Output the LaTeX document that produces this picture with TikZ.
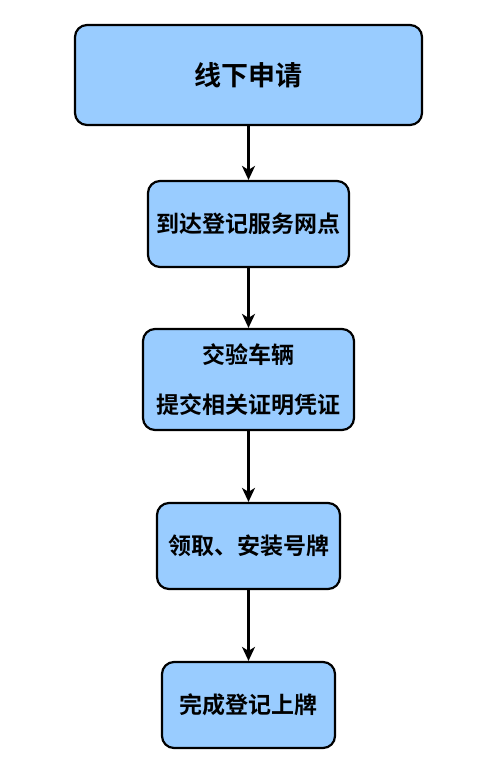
\documentclass[tikz,border=0pt]{standalone}
\usepackage{fontspec}
\setmainfont{Noto Sans CJK SC Bold}
\usetikzlibrary{
  arrows.meta,
  positioning
}
\definecolor{boxblue}{HTML}{99CCFF}
\tikzset{
  stepbox/.style = {rectangle, rounded corners=12pt, draw=black, line width=2.2pt,
    fill=boxblue, align=center, inner sep=0pt, font=\fontsize{23}{27}\selectfont},
  flow/.style = {-{Stealth[length=14pt,width=13pt,inset=4pt]}, line width=2.2pt}
}
\begin{document}
\begin{tikzpicture}[x=1pt, y=-1pt]
    \useasboundingbox (0,0) rectangle (496,767);
    \node[stepbox, minimum width=347pt, minimum height=100pt,
      font=\fontsize{27}{32}\selectfont] (apply) at (248.5,75) {线下申请};
    \node[stepbox, minimum width=201pt, minimum height=86pt] (visit) at (248.5,224) {到达登记服务网点};
    \node[stepbox, minimum width=211pt, minimum height=101pt,
      font=\fontsize{23}{50}\selectfont] (check) at (248.5,379.5) {交验车辆\\提交相关证明凭证};
    \node[stepbox, minimum width=183pt, minimum height=86pt] (plate) at (248.5,546) {领取、安装号牌};
    \node[stepbox, minimum width=173pt, minimum height=86pt] (done) at (248.5,705) {完成登记上牌};

    \draw[flow] (apply) -- (visit);
    \draw[flow] (visit) -- (check);
    \draw[flow] (check) -- (plate);
    \draw[flow] (plate) -- (done);
  \end{tikzpicture}
\end{document}
